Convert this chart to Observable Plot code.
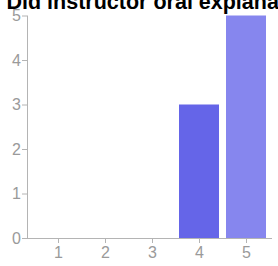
<!DOCTYPE html>
<html>
<head>
<meta charset="utf-8">
<script src="https://cdn.jsdelivr.net/npm/d3@7"></script>
<script src="https://cdn.jsdelivr.net/npm/@observablehq/plot@0.6"></script>
<style>
  html, body { margin: 0; padding: 0; background: #fff; overflow: hidden; }
  #title { font: bold 21.5px "Liberation Sans", Arial, sans-serif; color: #000; height: 10px; line-height: 10px; margin-top: -3px; padding-left: 6.5px; white-space: nowrap; overflow: visible; position: relative; z-index: 1; }
  #chart svg { display: block; }
</style>
</head>
<body>
<div id="title"></div>
<div id="chart"></div>
<script>
const titleText = "Did instructor oral explanations help?";
const scores = [1, 2, 3, 4, 5];
const counts = [0, 0, 0, 3, 5];
const yTicks = [0, 1, 2, 3, 4, 5];
const barColors = ["#6565e8", "#6565e8", "#6565e8", "#6565e8", "#8686ee"];

document.getElementById("title").textContent = titleText;
const data = scores.map((s, i) => ({score: s, count: counts[i]}));

const chart = Plot.plot({
  width: 278,
  height: 259,
  marginTop: 8.5,
  marginBottom: 28,
  marginLeft: 27,
  marginRight: 6,
  style: {fontFamily: "'Liberation Sans', Arial, sans-serif", fontSize: "16px", background: "#fff"},
  x: {type: "band", domain: scores, range: [32, 271.7], paddingInner: 0.144, paddingOuter: 0.072},
  y: {domain: [0, 5]},
  color: {type: "ordinal", domain: scores, range: barColors},
  marks: [
    Plot.barY(data, {x: "score", y: "count", fill: "score"}),
    Plot.frame({anchor: "left", stroke: "#b4b4b4"}),
    Plot.ruleY([0], {stroke: "#b4b4b4"}),
    Plot.axisY(yTicks, {tickSize: 5, tickPadding: 1.5, stroke: "#b4b4b4", color: "#9a9a9a", label: null, fontSize: 16}),
    Plot.axisX(scores, {tickSize: 5, tickPadding: 3, stroke: "#b4b4b4", color: "#9a9a9a", label: null, fontSize: 16})
  ]
});
document.getElementById("chart").appendChild(chart);
</script>
</body>
</html>
